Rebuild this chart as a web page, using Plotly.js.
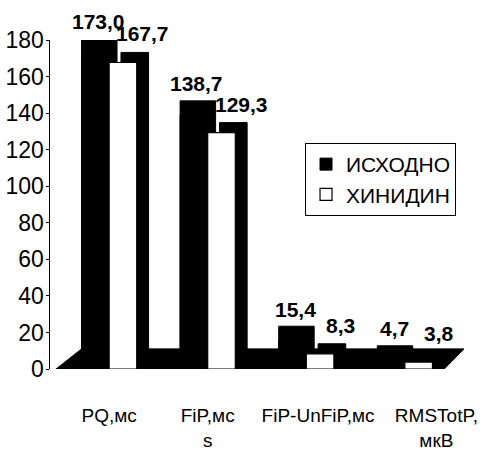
<!DOCTYPE html>
<html>
<head>
<meta charset="utf-8">
<script src="https://cdn.plot.ly/plotly-3.0.1.min.js"></script>
<style>html,body{margin:0;padding:0;background:#fff;}#chart{width:485px;height:451px;}</style>
</head>
<body>
<div id="chart"></div>
<script>
// Data
var categories = ["PQ,мс", "FiP,мс<br>s", "FiP-UnFiP,мс", "RMSTotP,<br>мкВ"];
var seriesNames = ["ИСХОДНО", "ХИНИДИН"];
var baseline = [173.0, 138.7, 15.4, 4.7];     // ИСХОДНО
var quinidine = [167.7, 129.3, 8.3, 3.8];     // ХИНИДИН
var yTicks = [0, 20, 40, 60, 80, 100, 120, 140, 160, 180];

// style: horizontal nudge of category labels (3D perspective look)
var LABEL_NUDGE = [0, 0, 0.12, 0.32];

var FONT = '"Liberation Sans", Arial, sans-serif';
var xIdx = categories.map(function (c, i) { return i; });
var BW = 0.28;

function fmt(v) { return v.toFixed(1).replace('.', ','); }

var traces = [
  // depth ("3D" side/top) faces on slightly shifted overlaying axes
  { type: 'bar', x: xIdx, y: baseline, yaxis: 'y2', width: BW + 0.08, offset: -BW,
    marker: { color: '#000', line: { color: '#000', width: 1 } },
    showlegend: false, hoverinfo: 'skip' },
  { type: 'bar', x: xIdx, y: quinidine, yaxis: 'y3', width: BW, offset: 0.12,
    marker: { color: '#000', line: { color: '#000', width: 1 } },
    showlegend: false, hoverinfo: 'skip' },
  // front faces
  { type: 'bar', name: seriesNames[0], x: xIdx, y: baseline, yaxis: 'y4', width: BW, offset: -BW,
    marker: { color: '#000', line: { color: '#000', width: 1 } } },
  { type: 'bar', name: seriesNames[1], x: xIdx, y: quinidine, yaxis: 'y4', width: BW, offset: 0,
    marker: { color: '#fff', line: { color: '#000', width: 1.2 } } }
];

var annotations = [];
baseline.forEach(function (v, i) {
  annotations.push({ x: i - BW / 2, y: v, xref: 'x', yref: 'y', text: fmt(v),
    showarrow: false, yanchor: 'bottom', xshift: 3, yshift: 18,
    font: { family: FONT, size: 21, color: '#000', weight: 'bold' } });
});
quinidine.forEach(function (v, i) {
  annotations.push({ x: i + BW / 2, y: v, xref: 'x', yref: 'y', text: fmt(v),
    showarrow: false, yanchor: 'bottom', xshift: 20, yshift: 15,
    font: { family: FONT, size: 21, color: '#000', weight: 'bold' } });
});

var layout = {
  width: 485, height: 451,
  margin: { l: 50, r: 21, t: 40, b: 82 },
  paper_bgcolor: '#fff', plot_bgcolor: '#fff',
  barmode: 'overlay',
  font: { family: FONT, color: '#000' },
  showlegend: true,
  legend: {
    x: 0.616, y: 0.687, xanchor: 'left', yanchor: 'top',
    bordercolor: '#000', borderwidth: 1, bgcolor: '#fff',
    font: { family: FONT, size: 21, color: '#000' },
    itemwidth: 30, tracegroupgap: 6
  },
  xaxis: {
    range: [-0.6, 3.6],
    tickmode: 'array',
    tickvals: xIdx.map(function (v, i) { return v + LABEL_NUDGE[i]; }),
    ticktext: categories,
    showline: false, showgrid: false, zeroline: false, ticks: '',
    ticklabelstandoff: 33,
    tickfont: { family: FONT, size: 19, color: '#000' }
  },
  yaxis: {
    range: [0, 180],
    tickmode: 'array', tickvals: yTicks, ticktext: yTicks.map(String),
    showline: true, linecolor: '#000', linewidth: 1.5,
    ticks: 'outside', ticklen: 3, tickcolor: '#000',
    ticklabelstandoff: -3,
    showgrid: false, zeroline: false,
    tickfont: { family: FONT, size: 23, color: '#000' }
  },
  yaxis2: { overlaying: 'y', range: [-8, 172], visible: false },
  yaxis3: { overlaying: 'y', range: [-5.5, 174.5], visible: false },
  yaxis4: { overlaying: 'y', range: [0, 180], visible: false },
  shapes: [
    { type: 'path', xref: 'x', yref: 'y', layer: 'below',
      path: 'M -0.55 -0.5 L 3.39 -0.5 L 3.6 11 L -0.28 11 Z',
      fillcolor: '#000', line: { color: '#000', width: 1 } }
  ],
  annotations: annotations
};

Plotly.newPlot('chart', traces, layout, { displayModeBar: false, staticPlot: true });
</script>
</body>
</html>
